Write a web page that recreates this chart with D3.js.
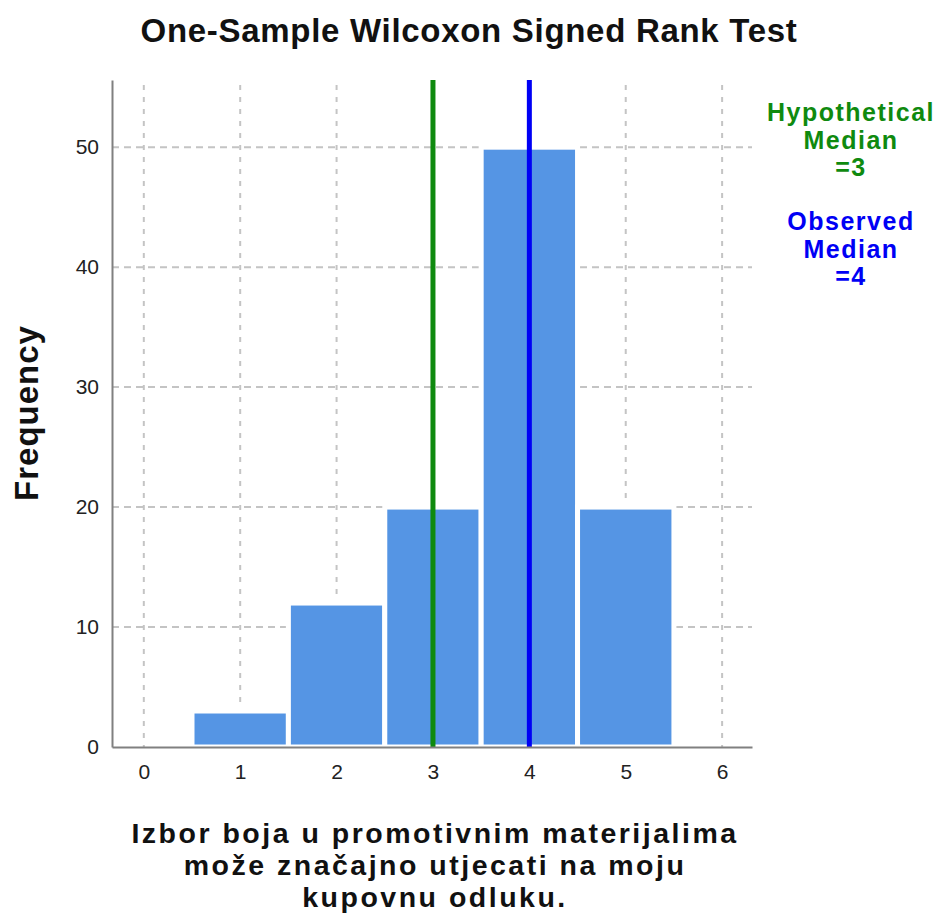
<!DOCTYPE html>
<meta charset="utf-8">
<style>
body { margin: 0; background: #fff; }
text { font-family: "Liberation Sans", Arial, sans-serif; }
.grid line { stroke: #c4c4c4; stroke-width: 2px; }
</style>
<body>
<script src="https://d3js.org/d3.v7.min.js"></script>
<script>

// data
var categories = [1, 2, 3, 4, 5];
var frequencies = [3, 12, 20, 50, 20];
var xTicks = [0, 1, 2, 3, 4, 5, 6];
var yTicks = [0, 10, 20, 30, 40, 50];
var hypotheticalMedian = 3;
var observedMedian = 4;
var titleText = "One-Sample Wilcoxon Signed Rank Test";
var xTitleLines = ["Izbor boja u promotivnim materijalima", "može značajno utjecati na moju", "kupovnu odluku."];

var W = 936, H = 918;
var margin = {top: 80, right: 184, bottom: 171, left: 112},
  width = W - margin.left - margin.right,
  height = H - margin.top - margin.bottom;

var x = d3.scaleLinear().domain([-0.33, 6.31]).range([0, width]);
var y = d3.scaleLinear().domain([0, 55.6]).range([height, 0]);

var svg = d3.select("body").append("svg")
  .attr("width", W)
  .attr("height", H);

var g = svg.append("g")
  .attr("transform", "translate(" + margin.left + "," + margin.top + ")");

// gridlines
g.append("g").attr("class", "grid")
  .selectAll("line").data(yTicks.slice(1)).enter().append("line")
  .attr("x1", 0).attr("x2", width)
  .attr("y1", function(d) { return y(d); })
  .attr("y2", function(d) { return y(d); })
  .attr("stroke-dasharray", "7,5");

g.append("g").attr("class", "grid")
  .selectAll("line").data(xTicks).enter().append("line")
  .attr("x1", function(d) { return x(d); })
  .attr("x2", function(d) { return x(d); })
  .attr("y1", 5).attr("y2", height)
  .attr("stroke-dasharray", "5,7");

// bars
g.selectAll(".bar").data(categories).enter().append("rect")
  .attr("class", "bar")
  .attr("x", function(d) { return x(d - 0.5); })
  .attr("width", function(d) { return x(d + 0.5) - x(d - 0.5); })
  .attr("y", function(d, i) { return y(frequencies[i]); })
  .attr("height", function(d, i) { return height - y(frequencies[i]); })
  .attr("fill", "#5595e4")
  .attr("stroke", "#fff")
  .attr("stroke-width", 5);

// median lines
g.append("line")
  .attr("x1", x(hypotheticalMedian)).attr("x2", x(hypotheticalMedian))
  .attr("y1", 0).attr("y2", height)
  .attr("stroke", "#0f8a0f").attr("stroke-width", 5);

g.append("line")
  .attr("x1", x(observedMedian)).attr("x2", x(observedMedian))
  .attr("y1", 0).attr("y2", height)
  .attr("stroke", "#0000f5").attr("stroke-width", 5);

// axes
var xAxis = g.append("g")
  .attr("transform", "translate(0," + height + ")")
  .call(d3.axisBottom(x).tickValues(xTicks).tickSize(0).tickPadding(17).tickFormat(d3.format("d")));
xAxis.select(".domain").attr("stroke", "#808080").attr("stroke-width", 2);
xAxis.selectAll("text").attr("font-size", "21px").attr("fill", "#222")
  .style("font-family", "'Liberation Sans', Arial, sans-serif");

var yAxis = g.append("g")
  .call(d3.axisLeft(y).tickValues(yTicks).tickSize(0).tickPadding(13).tickFormat(d3.format("d")));
yAxis.select(".domain").attr("stroke", "#808080").attr("stroke-width", 2);
yAxis.selectAll("text").attr("font-size", "21px").attr("fill", "#222")
  .style("font-family", "'Liberation Sans', Arial, sans-serif");

// title
svg.append("text")
  .attr("x", 469).attr("y", 42)
  .attr("text-anchor", "middle")
  .attr("font-size", "33px")
  .attr("font-weight", "bold")
  .attr("letter-spacing", "0.7px")
  .attr("fill", "#111")
  .text(titleText);

// y title
svg.append("text")
  .attr("transform", "translate(38," + 413 + ") rotate(-90)")
  .attr("text-anchor", "middle")
  .attr("font-size", "33px")
  .attr("font-weight", "bold")
  .attr("letter-spacing", "1px")
  .attr("fill", "#111")
  .text("Frequency");

// x title
svg.append("g").selectAll("text").data(xTitleLines).enter().append("text")
  .attr("x", 435)
  .attr("y", function(d, i) { return 843 + i * 32; })
  .attr("text-anchor", "middle")
  .attr("font-size", "28.5px")
  .attr("font-weight", "bold")
  .attr("letter-spacing", "2.5px")
  .attr("fill", "#111")
  .text(function(d) { return d; });

// median labels
var notes = [
  {lines: ["Hypothetical", "Median", "=" + hypotheticalMedian], color: "#0f8a0f", y0: 121},
  {lines: ["Observed", "Median", "=" + observedMedian], color: "#0000f5", y0: 230}
];
notes.forEach(function(n) {
  svg.append("g").selectAll("text").data(n.lines).enter().append("text")
    .attr("x", 851)
    .attr("y", function(d, i) { return n.y0 + i * 27.5; })
    .attr("text-anchor", "middle")
    .attr("font-size", "25px")
    .attr("font-weight", "bold")
    .attr("letter-spacing", "1.5px")
    .attr("fill", n.color)
    .text(function(d) { return d; });
});

</script>
</body>
